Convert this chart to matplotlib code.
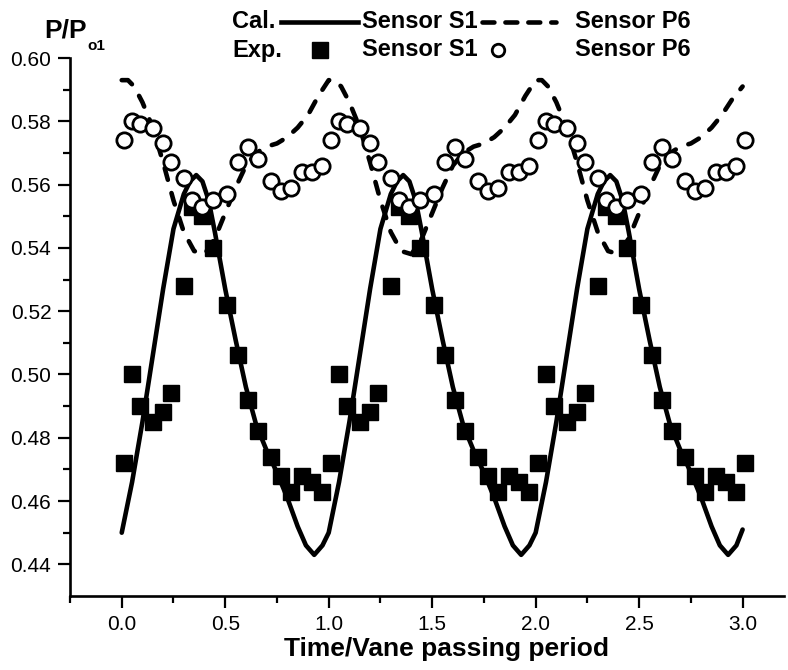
import matplotlib
matplotlib.use("Agg")
import matplotlib.pyplot as plt
from matplotlib.lines import Line2D
from matplotlib.ticker import FixedLocator, FormatStrFormatter

plt.rcParams['font.family'] = ['Liberation Sans', 'DejaVu Sans']

# calculated pressure, sensor S1 (solid line)
cal_s1_t = [0.00, 0.05, 0.10, 0.15, 0.20, 0.25, 0.30, 0.33, 0.36, 0.39, 0.42, 0.45,
            0.50, 0.55, 0.60, 0.65, 0.70, 0.75, 0.80, 0.85, 0.89, 0.93, 0.97,
            1.00, 1.05, 1.10, 1.15, 1.20, 1.25, 1.30, 1.33, 1.36, 1.39, 1.42, 1.45,
            1.50, 1.55, 1.60, 1.65, 1.70, 1.75, 1.80, 1.85, 1.89, 1.93, 1.97,
            2.00, 2.05, 2.10, 2.15, 2.20, 2.25, 2.30, 2.33, 2.36, 2.39, 2.42, 2.45,
            2.50, 2.55, 2.60, 2.65, 2.70, 2.75, 2.80, 2.85, 2.89, 2.93, 2.97, 3.00]
cal_s1 = [0.450, 0.466, 0.485, 0.506, 0.527, 0.546, 0.557, 0.561, 0.563, 0.561, 0.555, 0.545,
          0.527, 0.511, 0.496, 0.484, 0.476, 0.469, 0.461, 0.452, 0.446, 0.443, 0.446,
          0.450, 0.466, 0.485, 0.506, 0.527, 0.546, 0.557, 0.561, 0.563, 0.561, 0.555, 0.545,
          0.527, 0.511, 0.496, 0.484, 0.476, 0.469, 0.461, 0.452, 0.446, 0.443, 0.446,
          0.450, 0.466, 0.485, 0.506, 0.527, 0.546, 0.557, 0.561, 0.563, 0.561, 0.555, 0.545,
          0.527, 0.511, 0.496, 0.484, 0.476, 0.469, 0.461, 0.452, 0.446, 0.443, 0.446, 0.451]

# calculated pressure, sensor P6 (dashed line)
cal_p6_t = [0.00, 0.03, 0.06, 0.10, 0.15, 0.20, 0.25, 0.30, 0.35, 0.40, 0.45, 0.50,
            0.55, 0.60, 0.65, 0.70, 0.75, 0.80, 0.85, 0.90, 0.95,
            1.00, 1.03, 1.06, 1.10, 1.15, 1.20, 1.25, 1.30, 1.35, 1.40, 1.45, 1.50,
            1.55, 1.60, 1.65, 1.70, 1.75, 1.80, 1.85, 1.90, 1.95,
            2.00, 2.03, 2.06, 2.10, 2.15, 2.20, 2.25, 2.30, 2.35, 2.40, 2.45, 2.50,
            2.55, 2.60, 2.65, 2.70, 2.75, 2.80, 2.85, 2.90, 2.95, 3.00]
cal_p6 = [0.593, 0.593, 0.591, 0.586, 0.578, 0.567, 0.555, 0.545, 0.539, 0.538, 0.543, 0.551,
          0.559, 0.566, 0.570, 0.572, 0.573, 0.575, 0.578, 0.582, 0.588,
          0.593, 0.593, 0.591, 0.586, 0.578, 0.567, 0.555, 0.545, 0.539, 0.538, 0.543, 0.551,
          0.559, 0.566, 0.570, 0.572, 0.573, 0.575, 0.578, 0.582, 0.588,
          0.593, 0.593, 0.591, 0.586, 0.578, 0.567, 0.555, 0.545, 0.539, 0.538, 0.543, 0.551,
          0.559, 0.566, 0.570, 0.572, 0.573, 0.575, 0.578, 0.582, 0.587, 0.591]

# measured points (both sensors share the sampling times)
exp_t = [0.01, 0.05, 0.09, 0.15, 0.20, 0.24, 0.30, 0.34, 0.39, 0.44,
         0.51, 0.56, 0.61, 0.66, 0.72, 0.77, 0.82, 0.87, 0.92, 0.97,
         1.01, 1.05, 1.09, 1.15, 1.20, 1.24, 1.30, 1.34, 1.39, 1.44,
         1.51, 1.56, 1.61, 1.66, 1.72, 1.77, 1.82, 1.87, 1.92, 1.97,
         2.01, 2.05, 2.09, 2.15, 2.20, 2.24, 2.30, 2.34, 2.39, 2.44,
         2.51, 2.56, 2.61, 2.66, 2.72, 2.77, 2.82, 2.87, 2.92, 2.97, 3.01]
exp_s1 = [0.472, 0.500, 0.490, 0.485, 0.488, 0.494, 0.528, 0.553, 0.550, 0.540,
          0.522, 0.506, 0.492, 0.482, 0.474, 0.468, 0.463, 0.468, 0.466, 0.463,
          0.472, 0.500, 0.490, 0.485, 0.488, 0.494, 0.528, 0.553, 0.550, 0.540,
          0.522, 0.506, 0.492, 0.482, 0.474, 0.468, 0.463, 0.468, 0.466, 0.463,
          0.472, 0.500, 0.490, 0.485, 0.488, 0.494, 0.528, 0.553, 0.550, 0.540,
          0.522, 0.506, 0.492, 0.482, 0.474, 0.468, 0.463, 0.468, 0.466, 0.463, 0.472]
exp_p6 = [0.574, 0.580, 0.579, 0.578, 0.573, 0.567, 0.562, 0.555, 0.553, 0.555,
          0.557, 0.567, 0.572, 0.568, 0.561, 0.558, 0.559, 0.564, 0.564, 0.566,
          0.574, 0.580, 0.579, 0.578, 0.573, 0.567, 0.562, 0.555, 0.553, 0.555,
          0.557, 0.567, 0.572, 0.568, 0.561, 0.558, 0.559, 0.564, 0.564, 0.566,
          0.574, 0.580, 0.579, 0.578, 0.573, 0.567, 0.562, 0.555, 0.553, 0.555,
          0.557, 0.567, 0.572, 0.568, 0.561, 0.558, 0.559, 0.564, 0.564, 0.566, 0.574]

y_ticks = [0.44, 0.46, 0.48, 0.50, 0.52, 0.54, 0.56, 0.58, 0.60]
x_ticks = [0.0, 0.5, 1.0, 1.5, 2.0, 2.5, 3.0]

W, H = 788, 670
fig = plt.figure(figsize=(W / 100, H / 100), dpi=100)
ax = fig.add_axes([70 / W, 74 / H, 714 / W, 538 / H])

dash = (0, (2.6, 3.0))
ax.plot(cal_s1_t, cal_s1, color='black', lw=3.3, solid_capstyle='round', zorder=2)
ax.plot(cal_p6_t, cal_p6, color='black', lw=3.3, ls=dash, dash_capstyle='round', zorder=2)
ax.plot(exp_t, exp_s1, ls='none', marker='s', ms=12, color='black', zorder=3)
ax.plot(exp_t, exp_p6, ls='none', marker='o', ms=11, mfc='white', mec='black',
        mew=2.0, zorder=4)

ax.set_xlim(-0.25, 3.2)
ax.set_ylim(0.43, 0.60)
for s in ['top', 'right']:
    ax.spines[s].set_visible(False)
for s in ['left', 'bottom']:
    ax.spines[s].set_linewidth(1.9)

ax.xaxis.set_major_locator(FixedLocator(x_ticks))
ax.xaxis.set_minor_locator(FixedLocator([-0.25, 0.25, 0.75, 1.25, 1.75, 2.25, 2.75]))
ax.yaxis.set_major_locator(FixedLocator(y_ticks))
ax.yaxis.set_minor_locator(FixedLocator([0.45, 0.47, 0.49, 0.51, 0.53, 0.55, 0.57, 0.59]))
ax.xaxis.set_major_formatter(FormatStrFormatter('%.1f'))
ax.yaxis.set_major_formatter(FormatStrFormatter('%.2f'))
ax.tick_params(which='major', length=8.5, width=1.6, labelsize=15, direction='out')
ax.tick_params(which='minor', length=5, width=1.6, direction='out')
ax.tick_params(axis='y', which='major', pad=5)
ax.tick_params(axis='x', which='major', pad=5)

ax.set_xlabel('Time/Vane passing period', fontsize=19, fontweight='bold')
ax.xaxis.set_label_coords(0.528, -0.076)

# axis title P/Po1
fig.text(44 / W, 1 - 38 / H, 'P/P', fontsize=19, fontweight='bold', va='baseline')
fig.text(87 / W, 1 - 50 / H, 'o1', fontsize=11, fontweight='bold', va='baseline')

# legend block drawn by hand
fs = 17
r1, r2 = 1 - 22 / H, 1 - 50 / H
tk = dict(fontsize=fs, fontweight='bold', va='center')
fig.text(232 / W, r1, 'Cal.', **tk)
fig.text(232 / W, r2, 'Exp.', **tk)
fig.text(362 / W, r1, 'Sensor S1', **tk)
fig.text(362 / W, r2, 'Sensor S1', **tk)
fig.text(575 / W, r1, 'Sensor P6', **tk)
fig.text(575 / W, r2, 'Sensor P6', **tk)
fig.add_artist(Line2D([281 / W, 358 / W], [r1, r1], transform=fig.transFigure,
                      color='black', lw=3.3))
fig.add_artist(Line2D([482 / W, 556 / W], [r1, r1], transform=fig.transFigure,
                      color='black', lw=3.3, ls=(0, (2.6, 2.4)), dash_capstyle='round'))
fig.add_artist(Line2D([320 / W], [r2], transform=fig.transFigure, ls='none',
                      marker='s', ms=11, color='black'))
fig.add_artist(Line2D([498 / W], [r2], transform=fig.transFigure, ls='none',
                      marker='o', ms=9, mfc='white', mec='black', mew=2.0))

fig.savefig('out.png', dpi=100)
